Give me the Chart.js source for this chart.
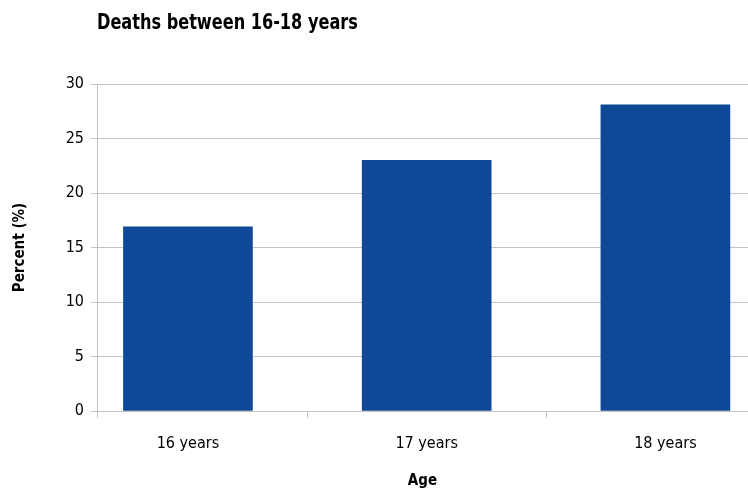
<!DOCTYPE html>
<html lang="en">
<head>
    <meta charset="UTF-8">
    <title>Deaths between 16-18 years</title>
    <script src="https://cdn.jsdelivr.net/npm/chart.js"></script>
    <style>
        body { margin: 0; background: #fff; }
        #wrap { position: relative; width: 748px; height: 492px; }
        #title {
            position: absolute; left: 97px; top: 9px;
            font: bold 22px "Liberation Sans Narrow", "DejaVu Sans Condensed", sans-serif;
            color: #000;
            white-space: nowrap;
            transform: scaleX(0.815);
            transform-origin: left top;
        }
    </style>
</head>
<body>
    <div id="wrap">
        <div id="title">Deaths between 16-18 years</div>
        <canvas id="myChart" width="748" height="492"></canvas>
    </div>

    <script>
        // data
        const categories = ['16 years', '17 years', '18 years'];
        const percents = [16.9, 23.0, 28.1];
        const yTicks = [0, 5, 10, 15, 20, 25, 30];

        const font = '"Liberation Sans Narrow", "DejaVu Sans Condensed", sans-serif';
        const gridColor = '#c4c4c4';

        // bars sit at x = 0, 1, 2 on a linear scale so the cropped edges can be matched
        const points = categories.map((c, i) => ({ x: i, y: percents[i] }));

        const ctx = document.getElementById('myChart').getContext('2d');
        const chart = new Chart(ctx, {
            type: 'bar',
            data: {
                datasets: [{
                    label: 'Percent',
                    data: points,
                    backgroundColor: '#0e4896',
                    barThickness: 129
                }]
            },
            options: {
                responsive: false,
                animation: false,
                layout: { padding: { top: 84, right: 0, bottom: 0, left: 0 } },
                plugins: {
                    legend: { display: false },
                    tooltip: { enabled: false }
                },
                scales: {
                    x: {
                        type: 'linear',
                        offset: false,
                        min: -0.381,
                        max: 2.346,
                        afterBuildTicks: (scale) => {
                            scale.ticks = [scale.min, 0, 0.5, 1, 1.5, 2].map(v => ({ value: v }));
                        },
                        afterFit: (scale) => { scale.height = 81; },
                        ticks: {
                            padding: 16,
                            color: '#000',
                            font: { family: font, size: 16 },
                            maxRotation: 0,
                            autoSkip: false,
                            callback: (v) => Number.isInteger(v) ? categories[v] : ''
                        },
                        grid: {
                            offset: false,
                            drawOnChartArea: false,
                            tickLength: 7,
                            tickColor: (c) => Number.isInteger(c.tick && c.tick.value) ? 'rgba(0,0,0,0)' : gridColor
                        },
                        border: { color: gridColor },
                        title: {
                            display: true,
                            text: 'Age',
                            color: '#000',
                            font: { family: font, size: 15, weight: 'bold' },
                            padding: { top: 0, bottom: 2 }
                        }
                    },
                    y: {
                        min: 0,
                        max: 30,
                        afterBuildTicks: (scale) => {
                            scale.ticks = yTicks.map(v => ({ value: v }));
                        },
                        afterFit: (scale) => { scale.width = 97; },
                        ticks: {
                            padding: 7,
                            color: '#000',
                            font: { family: font, size: 16 }
                        },
                        grid: {
                            color: gridColor,
                            tickLength: 6
                        },
                        border: { color: gridColor },
                        title: {
                            display: true,
                            text: 'Percent (%)',
                            color: '#000',
                            font: { family: font, size: 15, weight: 'bold' },
                            padding: { top: 11, bottom: 0 }
                        }
                    }
                }
            }
        });
    </script>
</body>
</html>
